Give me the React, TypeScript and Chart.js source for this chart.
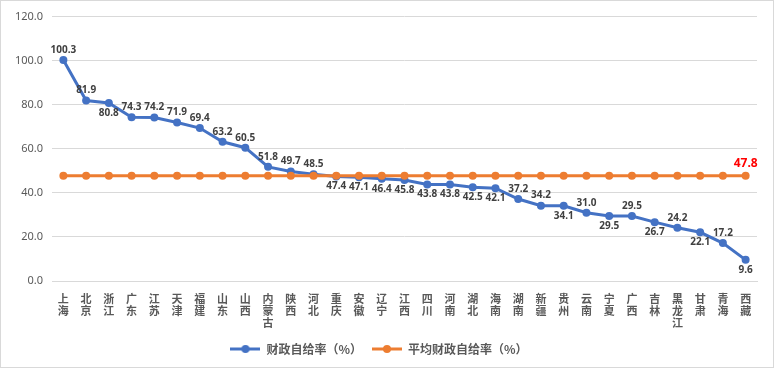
import React, { useEffect, useRef } from "react";
import { Chart, registerables } from "chart.js";

Chart.register(...registerables);

const provinces = [
  "上海", "北京", "浙江", "广东", "江苏", "天津", "福建", "山东", "山西", "内蒙古",
  "陕西", "河北", "重庆", "安徽", "辽宁", "江西", "四川", "河南", "湖北", "海南",
  "湖南", "新疆", "贵州", "云南", "宁夏", "广西", "吉林", "黑龙江", "甘肃", "青海", "西藏",
];

const selfSufficiency = [
  100.3, 81.9, 80.8, 74.3, 74.2, 71.9, 69.4, 63.2, 60.5, 51.8,
  49.7, 48.5, 47.4, 47.1, 46.4, 45.8, 43.8, 43.8, 42.5, 42.1,
  37.2, 34.2, 34.1, 31.0, 29.5, 29.5, 26.7, 24.2, 22.1, 17.2, 9.6,
];

const averageSufficiency = [
  47.8, 47.8, 47.8, 47.8, 47.8, 47.8, 47.8, 47.8, 47.8, 47.8,
  47.8, 47.8, 47.8, 47.8, 47.8, 47.8, 47.8, 47.8, 47.8, 47.8,
  47.8, 47.8, 47.8, 47.8, 47.8, 47.8, 47.8, 47.8, 47.8, 47.8, 47.8,
];

// a = label above the point, b = label below
const labelSide = [
  "a", "a", "b", "a", "a", "a", "a", "a", "a", "a",
  "a", "a", "b", "b", "b", "b", "b", "b", "b", "b",
  "a", "a", "b", "a", "b", "a", "b", "a", "b", "a", "b",
];

const yTicks = [0, 20, 40, 60, 80, 100, 120];

const seriesNames = ["财政自给率（%）", "平均财政自给率（%）"];
const BLUE = "#4472C4";
const ORANGE = "#ED7D31";

function legendIcon(color: string): HTMLCanvasElement {
  const c = document.createElement("canvas");
  c.width = 30;
  c.height = 10;
  const g = c.getContext("2d")!;
  g.strokeStyle = color;
  g.lineWidth = 3;
  g.beginPath();
  g.moveTo(0, 5);
  g.lineTo(30, 5);
  g.stroke();
  g.fillStyle = color;
  g.beginPath();
  g.arc(15, 5, 4, 0, Math.PI * 2);
  g.fill();
  return c;
}

const labelPlugin = {
  id: "valueLabels",
  afterDatasetsDraw(chart: any) {
    const ctx = chart.ctx;
    ctx.save();
    const meta0 = chart.getDatasetMeta(0);
    ctx.font = "bold 10px 'Noto Sans', sans-serif";
    ctx.fillStyle = "#404040";
    ctx.textAlign = "center";
    ctx.textBaseline = "middle";
    meta0.data.forEach((pt: any, i: number) => {
      const v = selfSufficiency[i];
      const dy = labelSide[i] === "a" ? -10 : 10;
      ctx.fillText(v.toFixed(1), pt.x, pt.y + dy);
    });
    const meta1 = chart.getDatasetMeta(1);
    const last = meta1.data[meta1.data.length - 1];
    if (last) {
      ctx.font = "bold 12px 'Noto Sans', sans-serif";
      ctx.fillStyle = "#FF0000";
      ctx.fillText(
        averageSufficiency[averageSufficiency.length - 1].toFixed(1),
        last.x,
        last.y - 12
      );
    }
    ctx.restore();
  },
};

export default function App() {
  const ref = useRef<HTMLCanvasElement | null>(null);

  useEffect(() => {
    document.body.style.margin = "0";
    const canvas = ref.current;
    if (!canvas) return;
    const icons = [legendIcon(BLUE), legendIcon(ORANGE)];
    const chart = new Chart(canvas, {
      type: "line",
      data: {
        labels: provinces.map((p) => p.split("")),
        datasets: [
          {
            label: seriesNames[0],
            data: selfSufficiency,
            borderColor: BLUE,
            backgroundColor: BLUE,
            borderWidth: 3,
            pointRadius: 4,
            pointHoverRadius: 4,
            pointBorderWidth: 0,
            tension: 0,
            order: 1,
          },
          {
            label: seriesNames[1],
            data: averageSufficiency,
            borderColor: ORANGE,
            backgroundColor: ORANGE,
            borderWidth: 3,
            pointRadius: 4,
            pointHoverRadius: 4,
            pointBorderWidth: 0,
            tension: 0,
            order: 0,
          },
        ],
      },
      options: {
        animation: false,
        responsive: false,
        layout: { padding: { top: 10, right: 16, bottom: 2, left: 0 } },
        plugins: {
          tooltip: { enabled: false },
          legend: {
            position: "bottom",
            labels: {
              usePointStyle: true,
              pointStyleWidth: 30,
              boxHeight: 10,
              padding: 10,
              color: "#595959",
              font: { size: 12, weight: "bold", family: "'Noto Sans CJK SC', sans-serif" },
              sort: (a: any, b: any) => a.datasetIndex - b.datasetIndex,
              generateLabels: (ch: any) =>
                ch.data.datasets.map((ds: any, i: number) => ({
                  text: ds.label,
                  fillStyle: ds.borderColor,
                  strokeStyle: ds.borderColor,
                  lineWidth: 0,
                  pointStyle: icons[i],
                  datasetIndex: i,
                  hidden: false,
                  fontColor: "#595959",
                })),
            },
          },
        },
        scales: {
          x: {
            offset: true,
            grid: { display: false },
            border: { display: true, color: "#D9D9D9", width: 1 },
            ticks: {
              autoSkip: false,
              maxRotation: 0,
              minRotation: 0,
              padding: 4,
              color: "#595959",
              font: { size: 11, weight: "bold", family: "'Noto Sans CJK SC', sans-serif", lineHeight: 1.1 },
            },
            afterFit: (s: any) => {
              s.height = 52;
            },
          },
          y: {
            min: 0,
            max: 120,
            afterBuildTicks: (s: any) => {
              s.ticks = yTicks.map((v) => ({ value: v }));
            },
            grid: { color: "#D9D9D9", drawTicks: false, lineWidth: 1 },
            border: { display: false },
            ticks: {
              padding: 9,
              color: "#595959",
              font: { size: 11, family: "'Noto Sans', sans-serif" },
              callback: (v: any) => Number(v).toFixed(1),
            },
            afterFit: (s: any) => {
              s.width = 51;
            },
          },
        },
      },
      plugins: [labelPlugin],
    });
    return () => chart.destroy();
  }, []);

  return (
    <div
      style={{
        position: "fixed",
        left: 0,
        top: 0,
        width: 774,
        height: 368,
        boxSizing: "border-box",
        border: "1px solid #D9D9D9",
        background: "#fff",
      }}
    >
      <canvas ref={ref} width={772} height={366} style={{ display: "block" }} />
    </div>
  );
}
